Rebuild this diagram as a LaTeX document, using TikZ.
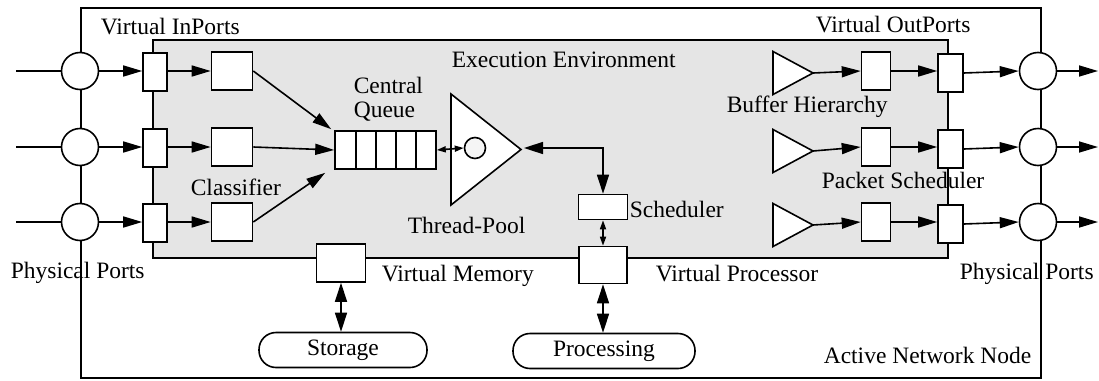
\documentclass[tikz,border=0pt]{standalone}
\usepackage{fontspec}
\setmainfont{Liberation Serif}
\usetikzlibrary{arrows.meta,calc}

\begin{document}
\begin{tikzpicture}[x=1pt,y=-1pt,line width=1.6pt,
  every node/.style={inner sep=0pt},
  lbl/.style={anchor=base west,font=\fontsize{23.5}{26}\selectfont},
  port/.style={draw,fill=white,circle,minimum size=37pt},
  vport/.style={draw,fill=white,minimum width=24pt,minimum height=38pt},
  cbox/.style={draw,fill=white,minimum width=41pt,minimum height=38pt},
  obox/.style={draw,fill=white,minimum width=29pt,minimum height=38pt},
  pill/.style={draw,fill=white,rounded corners=17pt,minimum height=35pt,
    font=\fontsize{23.5}{26}\selectfont},
  arr/.style={-{Triangle[length=19pt,width=11pt]}},
  darr/.style={{Triangle[length=19pt,width=12pt]}-{Triangle[length=19pt,width=12pt]}},
  sarr/.style={{Triangle[length=9pt,width=6pt]}-{Triangle[length=9pt,width=6pt]}},
  buf/.style={draw,fill=white,line join=miter}]

\useasboundingbox (0,0) rectangle (1099,380);

% node frame and execution environment
\draw (81,8) rectangle (1041,378);
\draw[fill=gray!20] (153,40) rectangle (948,258);

% physical input ports, virtual inports, classifier buffers
\foreach \i/\y in {1/71,2/147,3/222}{
  \coordinate (in\i) at (16,\y);
  \node[port] (pl\i) at (80,\y) {};
  \node[vport] (vi\i) at (155,\y+1) {};
  \node[cbox] (cl\i) at (232,\y) {};
  \draw (in\i) -- (pl\i.west);
  \draw[arr] (pl\i.east) -- (pl\i.east -| vi\i.west);
  \draw[arr] (vi\i.east |- cl\i.west) -- (cl\i.west);
}

% central queue
\node[draw,fill=white,minimum width=101pt,minimum height=38pt] (queue) at (385.5,150) {};
\foreach \x in {356,376,396,416}
  \draw (\x,131) -- (\x,169);

\draw[arr] (cl1.east) -- ($(queue.north west)+(-3,-1)$);
\draw[arr] (cl2.east) -- (queue.west);
\draw[arr] (cl3.east) -- ($(queue.south west)+(-9,3)$);

% thread pool
\draw[buf] (451,94) -- (521,149.5) -- (451,205) -- cycle;
\coordinate (tptip) at (524,148);
\node[draw,fill=gray!8,circle,minimum size=21pt] (tpc) at (475,148) {};
\draw[sarr] (queue.east) -- (tpc.west);

% scheduler and virtual processor
\node[draw,fill=white,minimum width=49pt,minimum height=25pt] (sched) at (603,207) {};
\node[draw,fill=white,minimum width=48pt,minimum height=37pt] (vp) at (603,265) {};
\draw[darr] (tptip) -| (sched.north);
\draw[sarr] (sched.south) -- (vp.north);

% virtual memory
\node[draw,fill=white,minimum width=49pt,minimum height=38pt] (vm) at (341,263) {};

% resources
\node[pill,minimum width=168pt] (storage) at (343,350) {Storage};
\node[pill,minimum width=182pt] (proc) at (604,351) {Processing};
\draw[darr] (vm.south) -- (vm.south |- storage.north);
\draw[darr] (vp.south) -- (vp.south |- proc.north);

% output side: buffer hierarchy, packet schedulers, virtual outports, physical ports
\foreach \i/\y/\t in {1/71/73,2/147/151,3/222/225}{
  \draw[buf] (773,\t-21.5) -- (813,\t) -- (773,\t+21.5) -- cycle;
  \coordinate (bt\i) at (813,\t);
  \node[obox] (ob\i) at (876,\y) {};
  \node[vport,minimum width=25pt] (vo\i) at (950.5,\y+2) {};
  \node[port] (pr\i) at (1038,\y) {};
  \coordinate (out\i) at (1098,\y);
  \draw[arr] (bt\i) -- (ob\i.west);
  \draw[arr] (ob\i.east) -- (ob\i.east -| vo\i.west);
  \draw[arr] (vo\i.east) -- (pr\i.west);
  \draw[arr] (pr\i.east) -- (out\i);
}

% labels
\node[lbl] (t-vin) at (100,34) {Virtual InPorts};
\node[lbl] (t-exec) at (451,67) {Execution Environment};
\node[lbl] (t-cen) at (353,93) {Central};
\node[lbl] (t-que) at (353,117) {Queue};
\node[lbl] (t-cls) at (190,195) {Classifier};
\node[lbl] (t-tp) at (407,233) {Thread-Pool};
\node[lbl] (t-sch) at (629,217) {Scheduler};
\node[lbl] (t-vm) at (381,281) {Virtual Memory};
\node[lbl] (t-vp) at (655,281) {Virtual Processor};
\node[lbl] (t-ppl) at (10,278) {Physical Ports};
\node[lbl] (t-vout) at (815,32) {Virtual OutPorts};
\node[lbl] (t-buf) at (726,112) {Buffer Hierarchy};
\node[lbl] (t-pks) at (821,188) {Packet Scheduler};
\node[lbl] (t-ppr) at (959,279) {Physical Ports};
\node[lbl] (t-ann) at (823,363) {Active Network Node};

\end{tikzpicture}
\end{document}
